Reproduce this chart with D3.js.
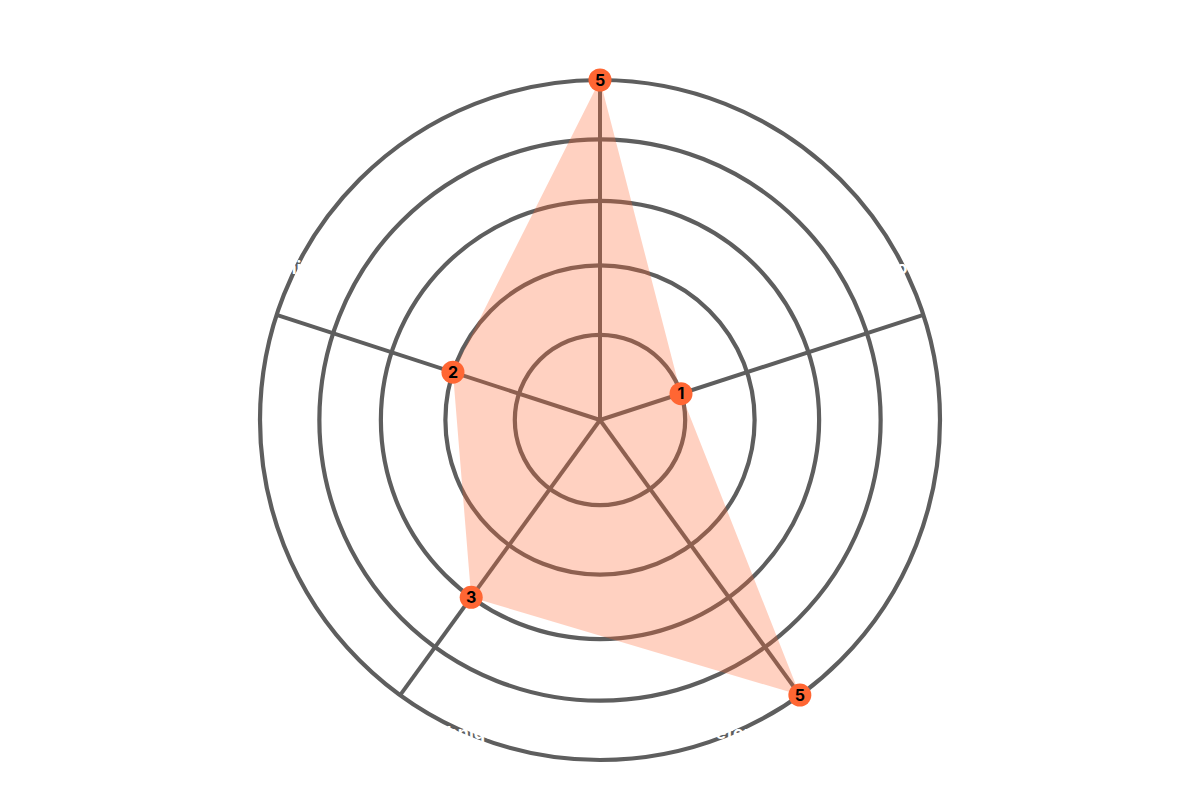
<!DOCTYPE html>
<html>
<head>
<meta charset="utf-8">
<script src="https://cdn.jsdelivr.net/npm/d3@7"></script>
<style>
  html, body { margin: 0; padding: 0; background: #ffffff; }
  svg { display: block; }
</style>
</head>
<body>
<svg id="chart" width="1200" height="801"></svg>
<script>
// ---- data ----
const categories = ["Speed", "Power", "Defense", "Technique", "Stamina"];
const values = [5, 1, 5, 3, 2];
const ringTicks = [1, 2, 3, 4, 5];
const maxValue = 5;

// ---- layout ----
const width = 1200, height = 801;
const cx = 600, cy = 420;
const outerR = 340;

const svg = d3.select("#chart");
const g = svg.append("g").attr("transform", `translate(${cx},${cy})`);

const r = d3.scalePow().exponent(0.86).domain([0, maxValue]).range([0, outerR]);
const angle = d3.scaleLinear().domain([0, categories.length]).range([0, 2 * Math.PI]);

const px = (a, rad) => rad * Math.sin(a);
const py = (a, rad) => -rad * Math.cos(a);

const grey = "#5e5e5e";

// rings
g.selectAll("circle.ring")
  .data(ringTicks)
  .join("circle")
  .attr("class", "ring")
  .attr("r", d => r(d))
  .attr("fill", "none")
  .attr("stroke", grey)
  .attr("stroke-width", 4.2);

// axes
g.selectAll("line.axis")
  .data(categories)
  .join("line")
  .attr("class", "axis")
  .attr("x1", 0).attr("y1", 0)
  .attr("x2", (d, i) => px(angle(i), r(maxValue)))
  .attr("y2", (d, i) => py(angle(i), r(maxValue)))
  .attr("stroke", grey)
  .attr("stroke-width", 4);

// area
const radial = d3.lineRadial()
  .angle((d, i) => angle(i))
  .radius(d => r(d))
  .curve(d3.curveLinearClosed);

g.append("path")
  .datum(values)
  .attr("d", radial)
  .attr("fill", "#ff6633")
  .attr("fill-opacity", 0.3)
  .attr("stroke", "none");

// points
const pts = g.selectAll("g.pt")
  .data(values)
  .join("g")
  .attr("class", "pt")
  .attr("transform", (d, i) => `translate(${px(angle(i), r(d))},${py(angle(i), r(d))})`);

pts.append("circle")
  .attr("r", 11.5)
  .attr("fill", "#ff6633");

pts.append("text")
  .attr("text-anchor", "middle")
  .attr("dy", "0.36em")
  .attr("font-family", "Inter, 'DejaVu Sans', sans-serif")
  .attr("font-weight", 700)
  .attr("font-size", 16)
  .attr("fill", "#000")
  .text(d => d);

// category labels (white)
const labelAngleShift = [0, -8, 12, -12, 8];
const labelRadius = [370, 348, 342, 342, 348];
g.selectAll("text.label")
  .data(categories)
  .join("text")
  .attr("class", "label")
  .attr("x", (d, i) => px(angle(i) + labelAngleShift[i] * Math.PI / 180, labelRadius[i]))
  .attr("y", (d, i) => py(angle(i) + labelAngleShift[i] * Math.PI / 180, labelRadius[i]))
  .attr("text-anchor", "middle")
  .attr("dy", "0.35em")
  .attr("font-family", "Inter, 'DejaVu Sans', sans-serif")
  .attr("font-weight", 700)
  .attr("font-size", 18)
  .attr("fill", "#ffffff")
  .text(d => d);
</script>
</body>
</html>
